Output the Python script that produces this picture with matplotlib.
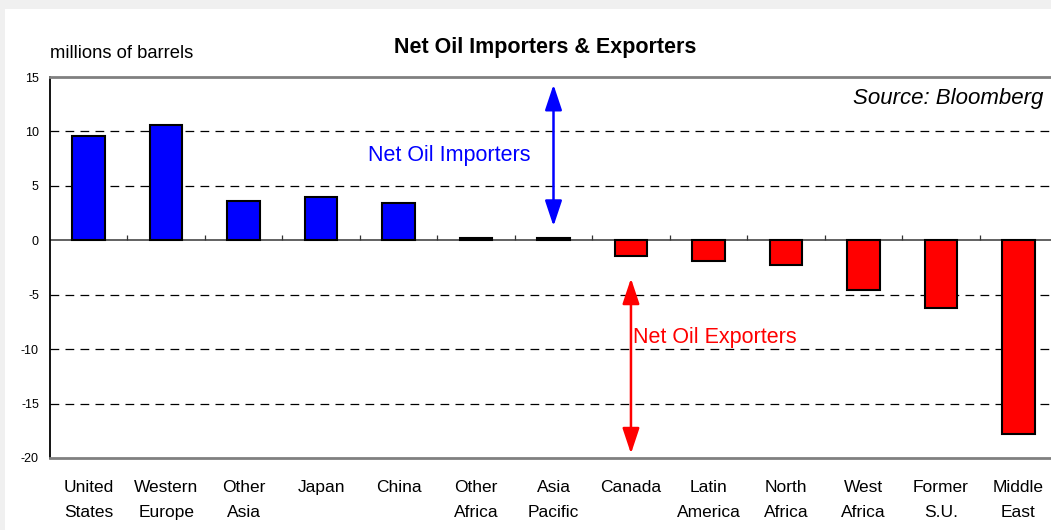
import numpy as np
import matplotlib
matplotlib.use("Agg")
from matplotlib import pyplot as plt
from matplotlib.patches import Rectangle

plt.rcParams['font.family'] = ['Liberation Sans', 'DejaVu Sans']
plt.rcParams['axes.unicode_minus'] = False

# data (millions of barrels)
regions = ["United\nStates", "Western\nEurope", "Other\nAsia", "Japan", "China",
           "Other\nAfrica", "Asia\nPacific", "Canada", "Latin\nAmerica", "North\nAfrica",
           "West\nAfrica", "Former\nS.U.", "Middle\nEast"]
net_oil = [9.6, 10.6, 3.6, 4.0, 3.4, 0.2, 0.2, -1.4, -1.9, -2.3, -4.6, -6.2, -17.8]
yticks = [15, 10, 5, 0, -5, -10, -15, -20]

fig = plt.figure(figsize=(10.51, 5.30), dpi=100, facecolor='#f0f0f0')
# white chart area
fig.patches.append(Rectangle((0.005, 0), 1.0, 1 - 9/530, transform=fig.transFigure,
                             facecolor='white', edgecolor='none', zorder=-10))

ax = fig.add_axes([50/1051, 1 - 458/530, 1007/1051, 381/530])
ax.set_facecolor('white')

x = np.arange(len(regions))
colors = ['blue' if v > 0 else 'red' for v in net_oil]
ax.bar(x, net_oil, width=0.42, color=colors, edgecolor='black', linewidth=1.5, zorder=3)

ax.set_xlim(-0.5, len(regions) - 0.5)
ax.set_ylim(-20, 15)

# gridlines
for g in [10, 5, -5, -10, -15]:
    ax.axhline(g, color='black', linewidth=0.9, dashes=(7, 5), zorder=1)
ax.axhline(0, color='#555555', linewidth=1.3, zorder=2)
# category ticks on the zero line
ax.vlines(x[:-1] + 0.5, 0, 0.5, color='#333333', linewidth=0.9, zorder=2)

ax.set_yticks(yticks)
ax.set_yticklabels([str(t) for t in yticks], fontsize=9)
ax.tick_params(axis='y', length=0, pad=8)
ax.set_xticks(x)
ax.set_xticklabels(regions, fontsize=12.5, linespacing=1.8)
ax.tick_params(axis='x', length=0, pad=16)
for lab in ax.get_xticklabels():
    lab.set_verticalalignment('top')

for s in ['top', 'bottom']:
    ax.spines[s].set_color('#808080')
    ax.spines[s].set_linewidth(2)
ax.spines['left'].set_color('black')
ax.spines['left'].set_linewidth(1.3)
ax.spines['right'].set_visible(False)

# arrows and annotations
astyle = '<|-|>,head_length=0.6,head_width=0.2'
ax.annotate('', xy=(6, 14.3), xytext=(6, 1.3),
            arrowprops=dict(arrowstyle=astyle, color='blue', lw=1.8,
                            mutation_scale=26, shrinkA=0, shrinkB=0))
ax.annotate('', xy=(7, -3.5), xytext=(7, -19.6),
            arrowprops=dict(arrowstyle=astyle, color='red', lw=1.8,
                            mutation_scale=26, shrinkA=0, shrinkB=0))
ax.text(4.65, 7.8, 'Net Oil Importers', color='blue', fontsize=15.5,
        ha='center', va='center')
ax.text(7.03, -8.9, 'Net Oil Exporters', color='red', fontsize=15.5,
        ha='left', va='center')
ax.text(12.33, 13.0, 'Source: Bloomberg', fontsize=16, style='italic',
        ha='right', va='center')

fig.text(50/1051, 1 - 53/530, 'millions of barrels', fontsize=13.2,
         ha='left', va='center')
fig.text(545/1051, 1 - 48/530, 'Net Oil Importers & Exporters', fontsize=15.5,
         fontweight='bold', ha='center', va='center')

fig.savefig('out.png', dpi=100, facecolor=fig.get_facecolor())
